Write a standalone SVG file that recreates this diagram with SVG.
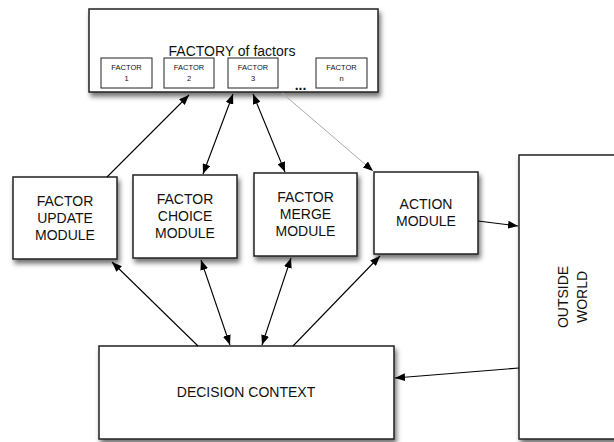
<svg xmlns="http://www.w3.org/2000/svg" width="614" height="442" viewBox="0 0 614 442">
  <defs>
    <filter id="shadow" x="-20%" y="-20%" width="140%" height="150%">
      <feDropShadow dx="2" dy="4" stdDeviation="2.5" flood-color="#000" flood-opacity="0.55"/>
    </filter>
    <marker id="arrow" viewBox="0 0 10 8" refX="10" refY="4" markerWidth="10" markerHeight="8" markerUnits="userSpaceOnUse" orient="auto-start-reverse">
      <path d="M0,0 L10,4 L0,8 z" fill="#000"/>
    </marker>
  </defs>
  <style>
    .box { fill: #fff; stroke: #222; stroke-width: 1.5; filter: url(#shadow); }
    .small { fill: #fff; stroke: #222; stroke-width: 1; }
    .label { font-family: "Liberation Sans", Arial, sans-serif; font-size: 14px; fill: #111; text-anchor: middle; }
    .tiny { font-family: "Liberation Sans", Arial, sans-serif; font-size: 7.5px; fill: #111; text-anchor: middle; }
    .link { stroke: #000; stroke-width: 1.1; fill: none; }
    .faint { stroke: #aaa; stroke-width: 1; fill: none; }
  </style>

  <rect width="614" height="442" fill="#fff"/>

  <!-- factory with its factor slots -->
  <g id="factory">
    <rect class="box" x="89" y="9" width="289" height="83"/>
    <text class="label" x="232" y="56">FACTORY of factors</text>
    <g id="factor-1">
      <rect class="small" x="101" y="58" width="51" height="30"/>
      <text class="tiny" x="126.5" y="69.5">FACTOR</text>
      <text class="tiny" x="126.5" y="81">1</text>
    </g>
    <g id="factor-2">
      <rect class="small" x="164" y="58" width="50" height="30"/>
      <text class="tiny" x="189" y="69.5">FACTOR</text>
      <text class="tiny" x="189" y="81">2</text>
    </g>
    <g id="factor-3">
      <rect class="small" x="228" y="58" width="50" height="30"/>
      <text class="tiny" x="253" y="69.5">FACTOR</text>
      <text class="tiny" x="253" y="81">3</text>
    </g>
    <text x="300.5" y="90" font-family="Liberation Sans, Arial, sans-serif" font-size="14" font-weight="bold" text-anchor="middle" fill="#111">...</text>
    <g id="factor-n">
      <rect class="small" x="316" y="58" width="51" height="30"/>
      <text class="tiny" x="341.5" y="69.5">FACTOR</text>
      <text class="tiny" x="341.5" y="81">n</text>
    </g>
  </g>

  <g id="factor-update">
    <rect class="box" x="13" y="177" width="104" height="82"/>
    <text class="label" x="65" y="205.5">FACTOR</text>
    <text class="label" x="65" y="222.5">UPDATE</text>
    <text class="label" x="65" y="239.5">MODULE</text>
  </g>

  <g id="factor-choice">
    <rect class="box" x="133" y="175" width="104" height="83"/>
    <text class="label" x="185" y="204">FACTOR</text>
    <text class="label" x="185" y="221">CHOICE</text>
    <text class="label" x="185" y="238">MODULE</text>
  </g>

  <g id="factor-merge">
    <rect class="box" x="254" y="173" width="103" height="83"/>
    <text class="label" x="305.5" y="202">FACTOR</text>
    <text class="label" x="305.5" y="219">MERGE</text>
    <text class="label" x="305.5" y="236">MODULE</text>
  </g>

  <g id="action">
    <rect class="box" x="374" y="172" width="104" height="82"/>
    <text class="label" x="426" y="209">ACTION</text>
    <text class="label" x="426" y="226">MODULE</text>
  </g>

  <g id="outside-world">
    <rect class="box" x="519" y="155" width="110" height="284"/>
    <text class="label" transform="translate(568,297) rotate(-90)">OUTSIDE</text>
    <text class="label" transform="translate(587,297) rotate(-90)">WORLD</text>
  </g>

  <g id="decision-context">
    <rect class="box" x="99" y="346" width="295" height="93"/>
    <text class="label" x="246" y="397" font-size="14.5">DECISION CONTEXT</text>
  </g>

  <!-- connectors -->
  <g id="connectors">
    <line class="link" x1="107" y1="177" x2="189" y2="95" marker-end="url(#arrow)"/>
    <line class="link" x1="203" y1="174" x2="233" y2="94" marker-start="url(#arrow)" marker-end="url(#arrow)"/>
    <line class="link" x1="285" y1="172" x2="253" y2="94" marker-start="url(#arrow)" marker-end="url(#arrow)"/>
    <line class="faint" x1="282" y1="93" x2="373" y2="171" marker-end="url(#arrow)"/>
    <line class="link" x1="478" y1="221" x2="518" y2="226" marker-end="url(#arrow)"/>
    <line class="link" x1="519" y1="368" x2="395" y2="378" marker-end="url(#arrow)"/>
    <line class="link" x1="198" y1="346" x2="112" y2="262" marker-end="url(#arrow)"/>
    <line class="link" x1="230" y1="345" x2="201" y2="260" marker-start="url(#arrow)" marker-end="url(#arrow)"/>
    <line class="link" x1="262" y1="345" x2="291" y2="258" marker-start="url(#arrow)" marker-end="url(#arrow)"/>
    <line class="link" x1="293" y1="346" x2="380" y2="256" marker-end="url(#arrow)"/>
  </g>
</svg>
